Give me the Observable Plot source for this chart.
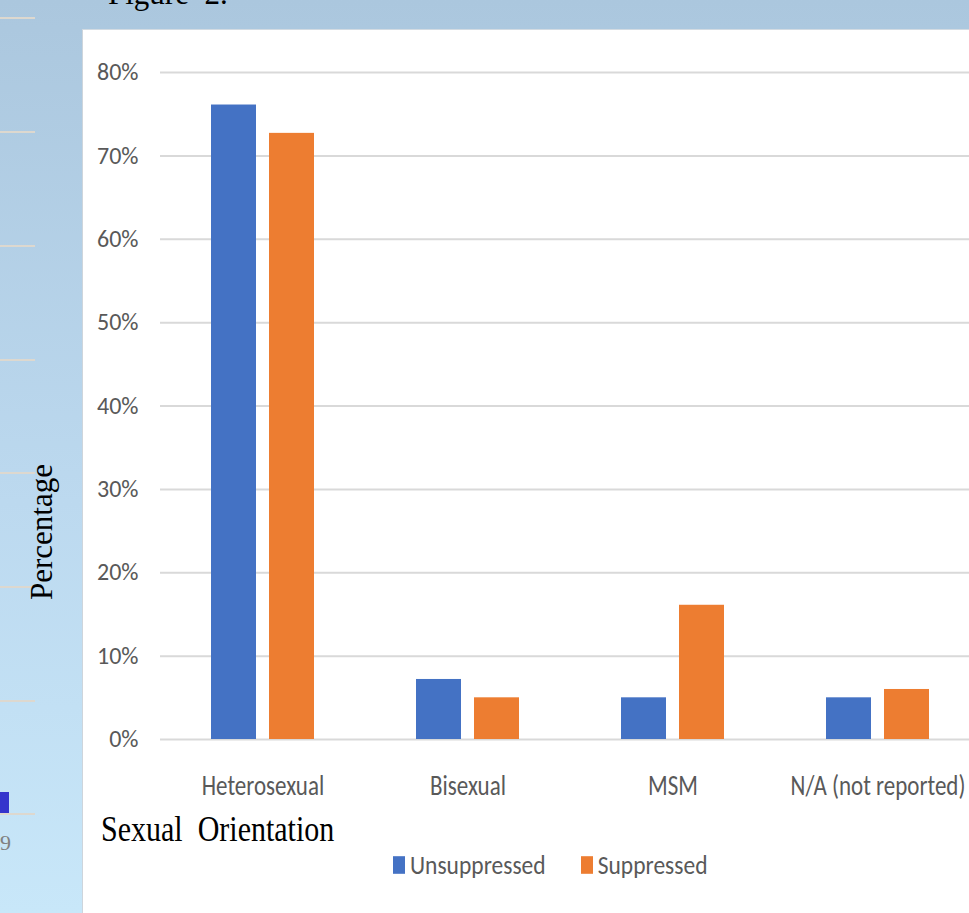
<!DOCTYPE html>
<html>
<head>
<meta charset="utf-8">
<script src="https://cdn.jsdelivr.net/npm/d3@7"></script>
<script src="https://cdn.jsdelivr.net/npm/@observablehq/plot@0.6"></script>
<style>
  html, body { margin: 0; padding: 0; width: 969px; height: 913px; overflow: hidden; }
  body { position: relative; background: linear-gradient(#abc7de 0%, #bcd9ef 55%, #c8e7f9 100%); }
  #panel { position: absolute; left: 82px; top: 29px; width: 920px; height: 900px; background: #fff;
           border-left: 1px solid #cdd5dc; border-top: 1px solid #d3dbe2; }
  .deco-line { position: absolute; left: 0; width: 35px; height: 2px; background: #ddd8cf; }
  #chart { position: absolute; left: 0; top: 0; }
  .serif { position: absolute; font-family: "Liberation Serif", "Times New Roman", serif; color: #000; white-space: pre; line-height: 1; }
  #legend { position: absolute; left: 393px; top: 851px; display: flex; align-items: center;
            font-family: Carlito, Calibri, "Liberation Sans Narrow", "DejaVu Sans Condensed", sans-serif;
            font-size: 23.5px; color: #595959; transform: scaleY(1.1); transform-origin: left center; }
  #legend .item { display: flex; align-items: center; margin-right: 35px; }
  #legend .sw { width: 12px; height: 16px; margin-right: 5px; }
</style>
</head>
<body>
<div id="panel"></div>
<div id="chart"></div>
<script>
// ---- data ----
const categories = ["Heterosexual", "Bisexual", "MSM", "N/A (not reported)"];
const series = ["Unsuppressed", "Suppressed"];
const unsuppressed = [76.1, 7.2, 5.0, 5.0];
const suppressed = [72.7, 5.0, 16.1, 6.0];
const yTicks = [0, 10, 20, 30, 40, 50, 60, 70, 80];
const colors = ["#4472c4", "#ed7d31"];
const title = "Figure  2.";
const yLabel = "Percentage";
const xLabel = "Sexual  Orientation";
const pageNumber = "9";

const data = categories.flatMap((c, i) => [
  {category: c, series: series[0], value: unsuppressed[i]},
  {category: c, series: series[1], value: suppressed[i]}
]);

// ---- decorations of the slide ----
[18, 132, 246, 360, 473, 587, 701, 814].forEach(y => {
  const d = document.createElement("div");
  d.className = "deco-line"; d.style.top = (y - 1) + "px";
  document.body.appendChild(d);
});
const sq = document.createElement("div");
Object.assign(sq.style, {position: "absolute", left: "0px", top: "792px", width: "9px", height: "21px", background: "#3434cc"});
document.body.appendChild(sq);
const pn = document.createElement("div");
pn.className = "serif"; pn.textContent = pageNumber;
Object.assign(pn.style, {left: "0px", top: "832px", fontSize: "22px", color: "#808080"});
document.body.appendChild(pn);

// ---- chart ----
const chart = Plot.plot({
  width: 1000,
  height: 813,
  marginLeft: 160,
  marginRight: 20,
  marginTop: 72,
  marginBottom: 74,
  style: {
    background: "transparent",
    maxWidth: "none",
    overflow: "visible",
    fontFamily: 'Carlito, Calibri, "Liberation Sans Narrow", "DejaVu Sans Condensed", sans-serif',
    fontSize: "24px",
    color: "#595959"
  },
  fx: {domain: categories, padding: 0, label: null, axis: "bottom", tickSize: 0, tickPadding: 35},
  x: {domain: series, axis: null, paddingInner: 0.222, paddingOuter: 0.863},
  y: {domain: [0, 80], ticks: yTicks, tickFormat: d => d + "%", label: null, tickSize: 0, tickPadding: 22},
  color: {domain: series, range: colors},
  marks: [
    Plot.gridY(yTicks, {stroke: "#d9d9d9", strokeOpacity: 1, strokeWidth: 2}),
    Plot.barY(data, {fx: "category", x: "series", y: "value", fill: "series"})
  ]
});
document.getElementById("chart").appendChild(chart);

// category labels: slightly smaller and stretched vertically like the reference
chart.querySelectorAll('g[aria-label="fx-axis tick label"] text').forEach(t => {
  t.style.fontSize = "23px";
  const tr = t.getAttribute("transform");
  if (tr) t.setAttribute("transform", tr + " scale(1,1.25)");
});

// ---- texts ----
const tt = document.createElement("div");
tt.className = "serif"; tt.textContent = title;
Object.assign(tt.style, {left: "108px", top: "-22px", fontSize: "31px"});
document.body.appendChild(tt);

const yl = document.createElement("div");
yl.className = "serif"; yl.textContent = yLabel;
Object.assign(yl.style, {left: "41px", top: "532px", fontSize: "31px", transform: "translate(-50%,-50%) rotate(-90deg)"});
document.body.appendChild(yl);

const xl = document.createElement("div");
xl.className = "serif"; xl.textContent = xLabel;
Object.assign(xl.style, {left: "101px", top: "812px", fontSize: "30px", transform: "scaleY(1.17)", transformOrigin: "left top"});
document.body.appendChild(xl);

// ---- legend ----
const legend = document.createElement("div");
legend.id = "legend";
series.forEach((s, i) => {
  const item = document.createElement("div"); item.className = "item";
  const sw = document.createElement("div"); sw.className = "sw"; sw.style.background = colors[i];
  const lab = document.createElement("span"); lab.textContent = s;
  item.appendChild(sw); item.appendChild(lab); legend.appendChild(item);
});
document.body.appendChild(legend);
</script>
</body>
</html>
